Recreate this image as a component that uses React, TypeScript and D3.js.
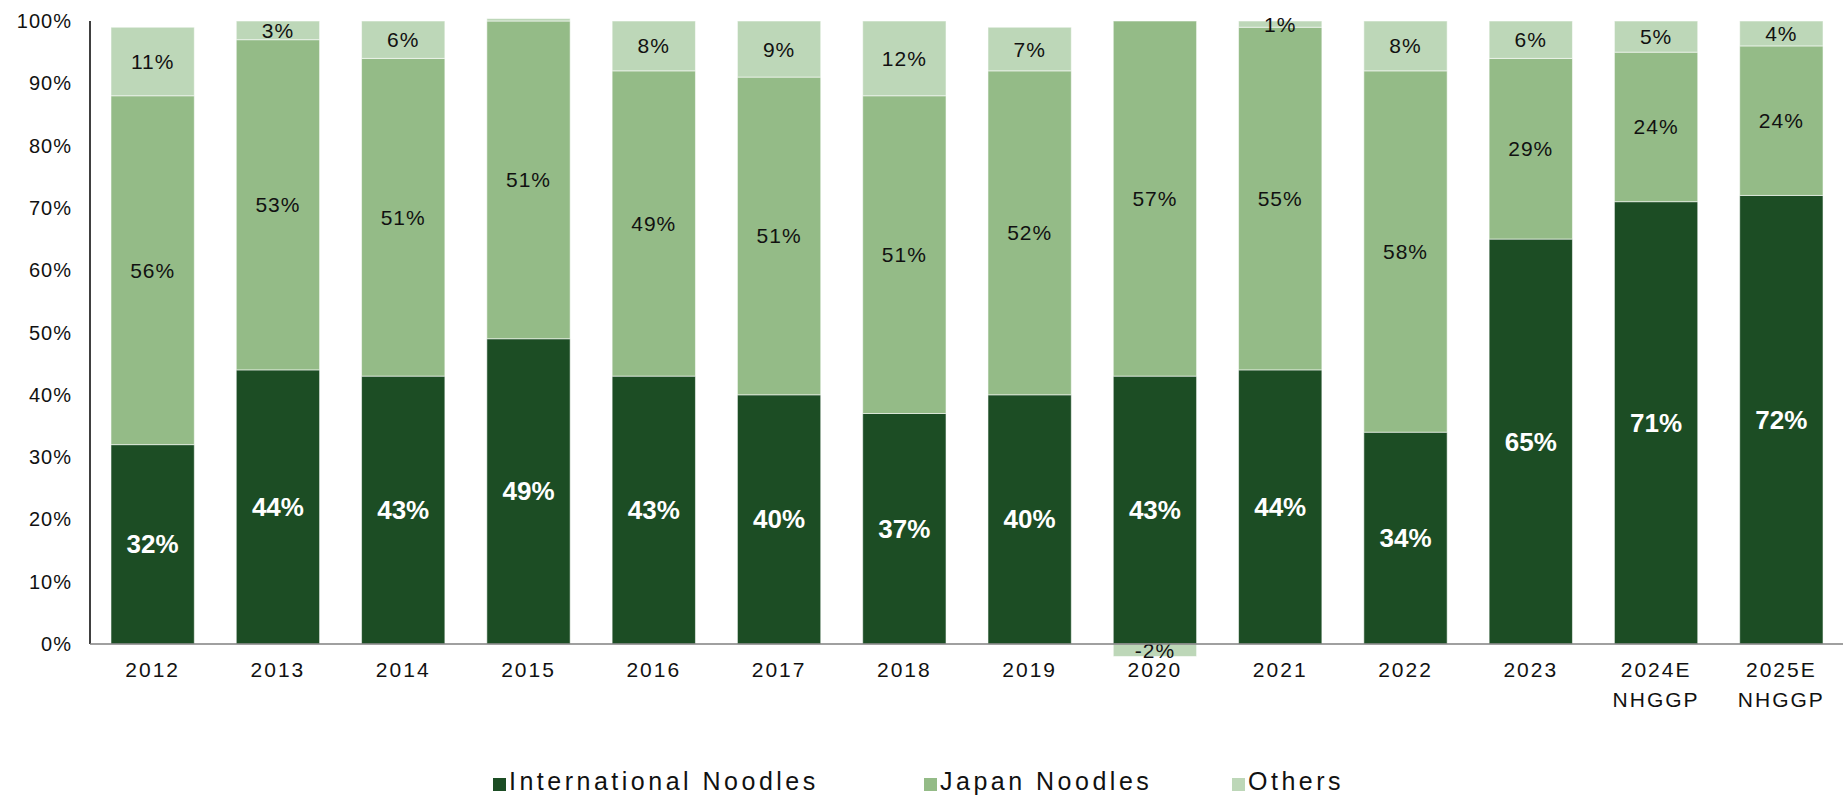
import React from "react";
import * as d3 from "d3";

const categories = ["2012", "2013", "2014", "2015", "2016", "2017", "2018", "2019", "2020", "2021", "2022", "2023", "2024E\nNHGGP", "2025E\nNHGGP"];
const internationalNoodles = [32, 44, 43, 49, 43, 40, 37, 40, 43, 44, 34, 65, 71, 72];
const japanNoodles = [56, 53, 51, 51, 49, 51, 51, 52, 57, 55, 58, 29, 24, 24];
const others = [11, 3, 6, 0.4, 8, 9, 12, 7, -2, 1, 8, 6, 5, 4];
const seriesNames = ["International Noodles", "Japan Noodles", "Others"];
const seriesColors = ["#1c4d24", "#94bb87", "#bdd7b8"];
const yTicks = [0, 10, 20, 30, 40, 50, 60, 70, 80, 90, 100];

const W = 1843;
const H = 801;
const FONT = "'Liberation Sans', Arial, sans-serif";

export default function App() {
  const rows = categories.map((c, i) => ({
    cat: c,
    s0: internationalNoodles[i],
    s1: japanNoodles[i],
    s2: others[i],
  }));
  const keys = ["s0", "s1", "s2"];
  const stacked = d3.stack<any>().keys(keys).offset(d3.stackOffsetDiverging)(rows);

  const x = d3.scaleBand<string>().domain(categories).range([90, 1844]).paddingInner(0.335).paddingOuter(0.1675);
  const y = d3.scaleLinear().domain([0, 100]).range([644, 21]);

  return (
    <svg width={W} height={H} style={{ position: "absolute", left: 0, top: 0, background: "#fff" }}>
      {stacked.map((layer, li) => (
        <g key={li}>
          {layer.map((d, i) => {
            const y0 = y(Math.max(d[0], d[1]));
            const y1 = y(Math.min(d[0], d[1]));
            return (
              <rect key={i} x={x(categories[i])} y={y0} width={x.bandwidth()} height={y1 - y0}
                fill={seriesColors[li]} stroke="#ffffff" strokeOpacity={0.55} strokeWidth={1} />
            );
          })}
        </g>
      ))}
      {stacked.map((layer, li) => (
        <g key={"l" + li}>
          {layer.map((d, i) => {
            const val = li === 0 ? internationalNoodles[i] : li === 1 ? japanNoodles[i] : others[i];
            if (Math.abs(val) < 1) return null;
            const cx = (x(categories[i]) as number) + x.bandwidth() / 2;
            const cy = y((d[0] + d[1]) / 2);
            const txt = Math.round(val) + "%";
            return li === 0 ? (
              <text key={i} x={cx} y={cy} textAnchor="middle" dominantBaseline="central"
                fontFamily={FONT} fontWeight="bold" fontSize={26} fill="#ffffff">{txt}</text>
            ) : (
              <text key={i} x={cx} y={cy} textAnchor="middle" dominantBaseline="central"
                fontFamily={FONT} fontSize={21} fill="#111" letterSpacing={1}>{txt}</text>
            );
          })}
        </g>
      ))}
      <line x1={90} x2={90} y1={y(100)} y2={y(0)} stroke="#000" strokeWidth={1.5} />
      <line x1={90} x2={1843} y1={y(0)} y2={y(0)} stroke="#808080" strokeWidth={1.5} />
      {yTicks.map((t) => (
        <text key={t} x={72} y={y(t)} textAnchor="end" dominantBaseline="central"
          fontFamily={FONT} fontSize={20} letterSpacing={1} fill="#111">{t + "%"}</text>
      ))}
      {categories.map((c) => {
        const cx = (x(c) as number) + x.bandwidth() / 2;
        return c.split("\n").map((line, k) => (
          <text key={c + k} x={cx} y={677 + k * 30} textAnchor="middle"
            fontFamily={FONT} fontSize={21} letterSpacing={2} fill="#111">{line}</text>
        ));
      })}
      {seriesNames.map((n, i) => {
        const lx = [493, 924, 1232][i];
        return (
          <g key={n}>
            <rect x={lx} y={778} width={13} height={13} fill={seriesColors[i]} />
            <text x={lx + 16} y={790} fontFamily={FONT} fontSize={25} letterSpacing={3.5} fill="#111">{n}</text>
          </g>
        );
      })}
    </svg>
  );
}
